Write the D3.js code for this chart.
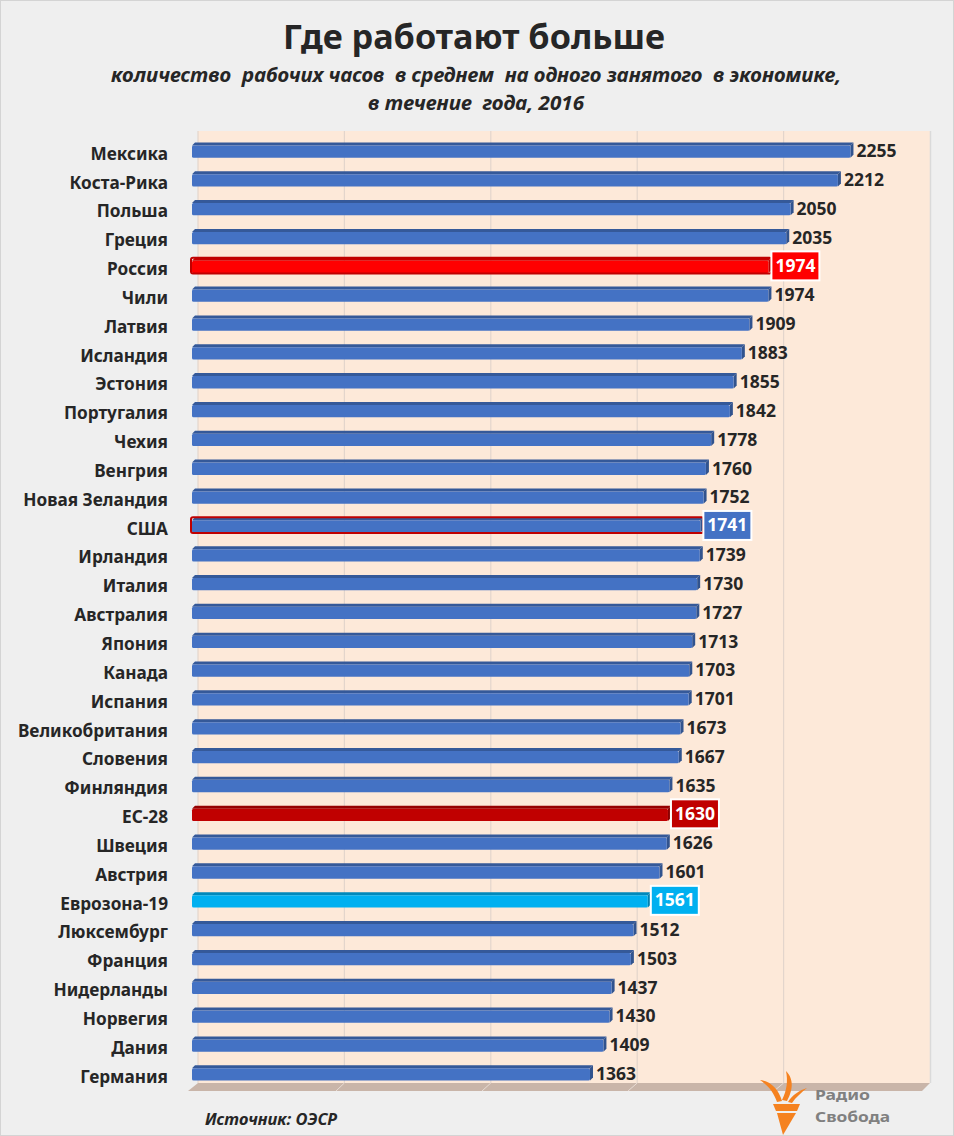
<!DOCTYPE html>
<html><head><meta charset="utf-8">
<script src="https://cdn.jsdelivr.net/npm/d3@7"></script>
<style>
html,body{margin:0;padding:0;background:#EFEFEF;}
svg{display:block;font-family:"Noto Sans","Open Sans",sans-serif;}
</style></head>
<body>
<svg id="chart" width="954" height="1136"></svg>
<script>
const countries = ["Мексика","Коста-Рика","Польша","Греция","Россия","Чили","Латвия","Исландия","Эстония","Португалия","Чехия","Венгрия","Новая Зеландия","США","Ирландия","Италия","Австралия","Япония","Канада","Испания","Великобритания","Словения","Финляндия","ЕС-28","Швеция","Австрия","Еврозона-19","Люксембург","Франция","Нидерланды","Норвегия","Дания","Германия"];
const values = [2255,2212,2050,2035,1974,1974,1909,1883,1855,1842,1778,1760,1752,1741,1739,1730,1727,1713,1703,1701,1673,1667,1635,1630,1626,1601,1561,1512,1503,1437,1430,1409,1363];
const tickValues = [0,500,1000,1500,2000,2500];
const highlightNames = ["Россия","США","ЕС-28","Еврозона-19"];
const highlightBar = ["#FF0000","#4472C4","#C00000","#00B0F0"];
const highlightBox = ["#FF0000","#4472C4","#C00000","#00B0F0"];
const highlightStroke = ["#C00000","#C00000",null,null];

const titleText = "Где работают больше";
const subtitle1 = "количество  рабочих часов  в среднем  на одного занятого  в экономике,";
const subtitle2 = "в течение  года, 2016";
const sourceText = "Источник: ОЭСР";

const svg = d3.select("#chart");
const W = 954, H = 1136;

svg.append("rect").attr("x",0.5).attr("y",0.5).attr("width",W-1).attr("height",H-1)
  .attr("fill","#EFEFEF").attr("stroke","#D4D4D4");

const x = d3.scaleLinear().domain([0,2500]).range([192,922]);
const xBack = d3.scaleLinear().domain([0,2500]).range([198,930]);
const y = d3.scaleBand().domain(countries).range([135.6,1087.3]).paddingInner(0.47).paddingOuter(0.235);

// back wall
const wallTop = 131, wallBottom = 1083;
svg.append("rect").attr("x",xBack(0)).attr("y",wallTop)
  .attr("width",xBack(2500)-xBack(0)).attr("height",wallBottom-wallTop).attr("fill","#FDE9D9");
// gridlines
svg.append("g").selectAll("line").data(tickValues.slice(0,5)).join("line")
  .attr("x1",d=>xBack(d)).attr("x2",d=>xBack(d)).attr("y1",wallTop).attr("y2",wallBottom)
  .attr("stroke","#E3D5CC").attr("stroke-width",1.2);
svg.append("line").attr("x1",xBack(2500)+0.5).attr("x2",xBack(2500)+0.5).attr("y1",wallTop).attr("y2",wallBottom)
  .attr("stroke","#DADADA").attr("stroke-width",1.5);
// floor
const fl = x(0)-4, fr = x(2500);
svg.append("path").attr("d",`M${fl},1091 L${xBack(0)},${wallBottom} L${xBack(2500)},${wallBottom} L${fr},1091 Z`)
  .attr("fill","#C9B5A9");
svg.append("g").selectAll("line").data(tickValues.slice(1,5)).join("line")
  .attr("x1",d=>xBack(d)).attr("x2",d=>x(d)-2).attr("y1",wallBottom).attr("y2",1091)
  .attr("stroke","#E8DCD4").attr("stroke-width",1);

// category labels
svg.append("g").selectAll("text").data(countries).join("text")
  .attr("x",168).attr("y",d=>y(d)+y.bandwidth()/2+5)
  .attr("text-anchor","end").attr("dominant-baseline","middle")
  .attr("font-size",17.2).attr("font-weight","bold").attr("fill","#262626")
  .text(d=>d);

const rows = countries.map((c,i)=>{
  const h = highlightNames.indexOf(c);
  return {c, v: values[i], h};
});

function shade(col,k){ return d3.color(col).darker(k).formatHex(); }

const bars = svg.append("g").selectAll("g").data(rows).join("g");
const bh = () => y.bandwidth();
bars.each(function(d){
  const g = d3.select(this);
  const col = d.h>=0 ? highlightBar[d.h] : "#4472C4";
  const y0 = y(d.c), hgt = bh(), x0 = x(0), x1 = x(d.v);
  const t = 3, s = 3;
  g.append("path").attr("d",`M${x0},${y0+t} L${x0+s},${y0} L${x1+s},${y0} L${x1},${y0+t} Z`).attr("fill",shade(col,0.7));
  g.append("path").attr("d",`M${x1},${y0+t} L${x1+s},${y0} L${x1+s},${y0+hgt-t} L${x1},${y0+hgt} Z`).attr("fill",shade(col,0.9));
  g.append("rect").attr("x",x0).attr("y",y0+t).attr("width",x1-x0).attr("height",hgt-t)
    .attr("rx",1.5).attr("fill",col);
  if(d.h>=0 && highlightStroke[d.h]){
    g.append("rect").attr("x",x0-1).attr("y",y0).attr("width",x1-x0+s+1).attr("height",hgt+0.5)
      .attr("rx",2).attr("fill","none").attr("stroke",highlightStroke[d.h]).attr("stroke-width",2);
  }
});

// value labels
const lab = svg.append("g").selectAll("g").data(rows).join("g");
lab.each(function(d){
  const g = d3.select(this);
  const cy = y(d.c)+bh()/2;
  const xs = x(d.v)+6;
  if(d.h>=0){
    g.append("rect").attr("x",xs-3).attr("y",cy-14).attr("width",48).attr("height",29)
      .attr("fill",highlightBox[d.h]).attr("stroke","#FFFFFF").attr("stroke-width",2);
    g.append("text").attr("x",xs+21).attr("y",cy+1.5).attr("text-anchor","middle")
      .attr("dominant-baseline","middle").attr("font-size",17.5).attr("font-weight","bold")
      .attr("fill","#FFFFFF").text(d.v);
  } else {
    g.append("text").attr("x",xs).attr("y",cy+2.5).attr("dominant-baseline","middle")
      .attr("font-size",17.5).attr("font-weight","bold").attr("fill","#262626").text(d.v);
  }
});

// titles
svg.append("text").attr("x",474).attr("y",49).attr("text-anchor","middle")
  .attr("font-size",34).attr("font-weight","bold").attr("fill","#262626")
  .attr("textLength",382).attr("lengthAdjust","spacingAndGlyphs").text(titleText);
svg.append("text").attr("x",476).attr("y",82).attr("text-anchor","middle")
  .attr("font-size",19.5).attr("font-weight","bold").attr("font-style","italic").attr("fill","#262626")
  .attr("textLength",730).attr("lengthAdjust","spacingAndGlyphs").style("white-space","pre").text(subtitle1);
svg.append("text").attr("x",476).attr("y",110).attr("text-anchor","middle")
  .attr("font-size",19.5).attr("font-weight","bold").attr("font-style","italic").attr("fill","#262626")
  .attr("textLength",216).attr("lengthAdjust","spacingAndGlyphs").style("white-space","pre").text(subtitle2);
svg.append("text").attr("x",205).attr("y",1125)
  .attr("font-size",16.5).attr("font-weight","bold").attr("font-style","italic").attr("fill","#262626")
  .attr("textLength",132).attr("lengthAdjust","spacingAndGlyphs").text(sourceText);

// logo
const logo = svg.append("g").attr("fill","#F58220");
logo.append("path").attr("d","M760,1080 C771,1081 779,1090 782,1101 L777,1102 C774,1093 769,1086 760,1080 Z");
logo.append("path").attr("d","M786,1071 C795,1080 792,1092 787,1101 L782,1100 C787,1090 788,1081 786,1071 Z");
logo.append("path").attr("d","M807,1088 C800,1090 792,1095 788,1102 L792,1103 C796,1097 801,1093 807,1088 Z");
logo.append("path").attr("d","M773,1104 L800,1104 L797,1111 L776,1111 Z");
logo.append("path").attr("d","M777,1113 L796,1113 L783,1135 Z");
svg.append("text").attr("x",815).attr("y",1100).attr("font-size",15).attr("font-weight","bold")
  .attr("fill","#808080").attr("textLength",55).attr("lengthAdjust","spacingAndGlyphs").text("Радио");
svg.append("text").attr("x",815).attr("y",1122).attr("font-size",15).attr("font-weight","bold")
  .attr("fill","#808080").attr("textLength",75).attr("lengthAdjust","spacingAndGlyphs").text("Свобода");
</script>
</body></html>
